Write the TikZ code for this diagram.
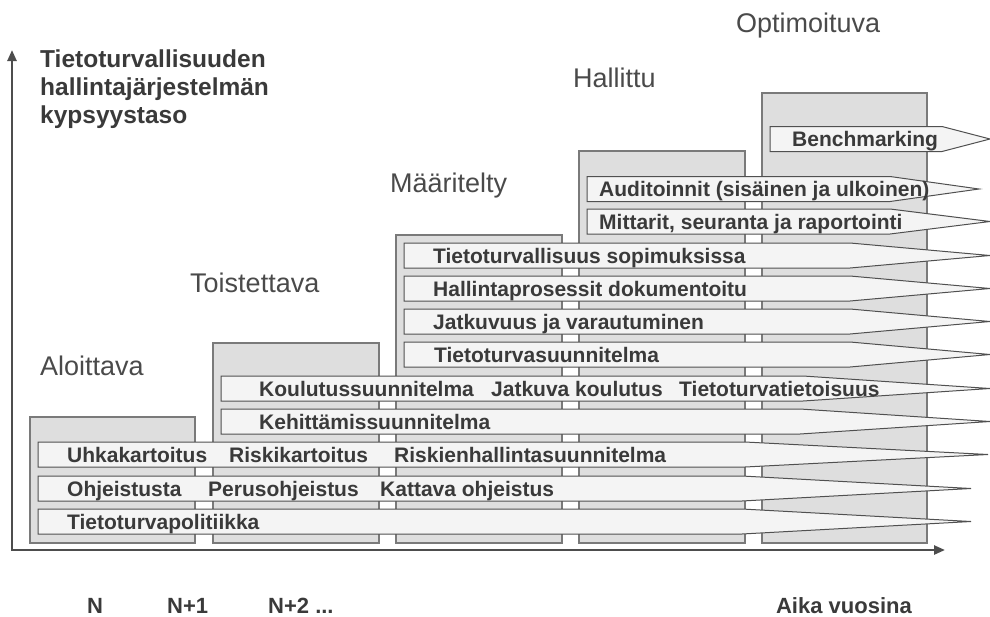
\documentclass[tikz,border=0pt]{standalone}
\usepackage{fontspec}
\setmainfont{Liberation Sans}
\usetikzlibrary{arrows.meta}

\definecolor{ink}{HTML}{3A3A3A}
\definecolor{stageink}{HTML}{4A4A4A}
\definecolor{colfill}{HTML}{DEDEDE}
\definecolor{colline}{HTML}{7A7A7A}
\definecolor{barfill}{HTML}{F4F4F4}
\definecolor{barline}{HTML}{505050}
\definecolor{axisline}{HTML}{4D4D4D}

% one maturity step: tapered bar from left edge #1, body end #2, tip #3, centre line #4
\newcommand\stagebar[4]{%
  \draw[barshape] (#1,#4-12.5) -- (#2,#4-12.5) -- (#3,#4) -- (#2,#4+12.5)
    -- (#1,#4+12.5) -- cycle;}

\begin{document}
\begin{tikzpicture}[x=1pt,y=-1pt,
  column/.style={draw=colline,fill=colfill,line width=1.2pt},
  barshape/.style={draw=barline,fill=barfill,line width=1pt,line join=miter},
  rowtext/.style={anchor=base west,inner sep=0pt,text=ink,
    font=\fontsize{21}{25}\selectfont\bfseries},
  stagetext/.style={anchor=base west,inner sep=0pt,text=stageink,
    font=\fontsize{27}{32}\selectfont},
  headtext/.style={anchor=base west,inner sep=0pt,text=ink,
    font=\fontsize{24.5}{28}\selectfont\bfseries},
  timetext/.style={anchor=base west,inner sep=0pt,text=ink,
    font=\fontsize{22}{26}\selectfont\bfseries},
  axis/.style={draw=axisline,line width=2.4pt,
    arrows={Triangle[length=11pt,width=9pt]-Triangle[length=11pt,width=9pt]}}]
\useasboundingbox (0,0) rectangle (990,616);

% axes
\coordinate (ytip) at (12,50);
\coordinate (origin) at (12,550);
\coordinate (xtip) at (945,550);
\draw[axis] (ytip) -- (origin) -- (xtip);

% columns for the five maturity levels
\draw[column] (30,417) rectangle (195,543);
\draw[column] (213,343) rectangle (379,543);
\draw[column] (396,235) rectangle (562,543);
\draw[column] (579,151) rectangle (745,543);
\draw[column] (762,93) rectangle (927,543);

% bars
\stagebar{770}{942}{990}{139}
\stagebar{587}{890}{979}{189}
\stagebar{587}{890}{990}{221.5}
\stagebar{404}{850}{990}{255.5}
\stagebar{404}{850}{990}{288.5}
\stagebar{404}{850}{990}{321.5}
\stagebar{404}{850}{990}{354.5}
\stagebar{221}{803}{990}{388.5}
\stagebar{221}{800}{990}{421.5}
\stagebar{38}{745}{988}{454.5}
\stagebar{38}{742}{971}{488.5}
\stagebar{38}{742}{971}{521.5}

% bar texts
\node[rowtext] (bench) at (792,146.5) {Benchmarking};
\node[rowtext] (audit) at (599,196.5) {Auditoinnit (sisäinen ja ulkoinen)};
\node[rowtext] (mitt) at (599,229) {Mittarit, seuranta ja raportointi};
\node[rowtext] (sopim) at (433,263) {Tietoturvallisuus sopimuksissa};
\node[rowtext] (hallpro) at (433,296) {Hallintaprosessit dokumentoitu};
\node[rowtext] (jatk) at (433,329) {Jatkuvuus ja varautuminen};
\node[rowtext] (ttsuun) at (434,362) {Tietoturvasuunnitelma};
\node[rowtext] (koulsuun) at (259,396) {Koulutussuunnitelma};
\node[rowtext] (jatkoul) at (491,396) {Jatkuva koulutus};
\node[rowtext] (ttietoi) at (679,396) {Tietoturvatietoisuus};
\node[rowtext] (kehit) at (259,429) {Kehittämissuunnitelma};
\node[rowtext] (uhka) at (67,462) {Uhkakartoitus};
\node[rowtext] (riski) at (229,462) {Riskikartoitus};
\node[rowtext] (riskhall) at (394,462) {Riskienhallintasuunnitelma};
\node[rowtext] (ohje) at (67,496) {Ohjeistusta};
\node[rowtext] (perus) at (208,496) {Perusohjeistus};
\node[rowtext] (katt) at (380,496) {Kattava ohjeistus};
\node[rowtext] (polit) at (67,529) {Tietoturvapolitiikka};

% level names
\node[stagetext] (aloit) at (40,375) {Aloittava};
\node[stagetext] (toist) at (190,292) {Toistettava};
\node[stagetext] (maar) at (390,192) {Määritelty};
\node[stagetext] (hall) at (573,87) {Hallittu};
\node[stagetext] (optim) at (736,32) {Optimoituva};

% vertical axis title
\node[headtext] (head1) at (40,67) {Tietoturvallisuuden};
\node[headtext] (head2) at (40,95) {hallintajärjestelmän};
\node[headtext] (head3) at (40,123) {kypsyystaso};

% time axis
\node[timetext] (yn) at (87,613) {N};
\node[timetext] (yn1) at (167,613) {N+1};
\node[timetext] (yn2) at (268,613) {N+2 ...};
\node[timetext,anchor=base east] (aika) at (912,613) {Aika vuosina};
\end{tikzpicture}
\end{document}
